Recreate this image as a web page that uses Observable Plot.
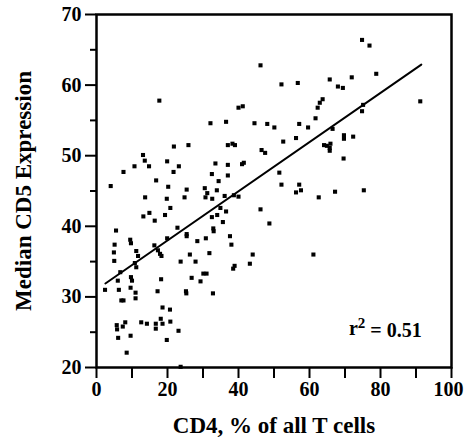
<!DOCTYPE html>
<html><head><meta charset="utf-8">
<script src="https://cdn.jsdelivr.net/npm/d3@7"></script>
<script src="https://cdn.jsdelivr.net/npm/@observablehq/plot@0.6"></script>
<style>body{margin:0;background:#fff} svg{display:block}</style>
</head><body><div id="chart"></div>
<script>
// CD4 (% of all T cells) for each sample
const cd4 = [74.8,76.9,46.2,78.8,71.9,65.7,68.0,69.4,52.1,56.7,91.2,17.7,63.7,62.9,62.3,40.0,41.2,75.1,74.8,61.7,
32.1,36.5,44.5,48.1,50.1,57.1,59.6,66.5,56.2,52.6,69.7,69.7,72.3,64.1,64.9,65.9,65.7,65.7,25.9,21.8,
37.0,38.3,39.0,46.5,47.5,13.1,13.6,14.8,10.7,19.9,23.2,21.7,7.6,33.5,37.0,41.0,41.5,32.5,37.0,51.5,
69.6,4.0,16.8,20.2,25.4,30.5,31.2,33.9,34.4,36.1,38.7,40.0,52.1,57.1,56.2,57.6,67.2,75.3,62.6,13.7,
19.8,24.8,30.7,32.6,46.2,20.8,14.9,13.2,16.4,19.3,32.5,34.0,34.9,36.5,35.6,48.7,22.8,32.9,33.0,5.5,
25.4,25.4,37.6,19.9,30.8,9.5,9.7,5.1,16.3,38.0,17.3,11.2,4.9,17.9,18.3,11.7,31.8,26.3,44.0,61.1,
5.0,23.7,27.9,43.2,10.8,11.2,38.9,38.5,28.4,6.7,30.1,31.0,26.8,29.3,18.2,9.7,10.0,6.0,9.6,6.3,
2.4,17.2,25.2,25.3,32.8,11.0,11.0,7.0,7.6,18.6,20.7,18.1,18.6,20.8,12.6,14.2,16.7,16.7,8.1,7.4,
5.7,5.8,6.1,9.6,23.1,19.8,8.5,23.7];
// Median CD5 expression for each sample
const cd5 = [66.4,65.6,62.8,61.6,61.1,60.8,59.8,59.6,60.1,60.3,57.7,57.8,58.0,57.5,56.8,56.8,57.0,57.2,56.3,55.3,
54.6,54.8,54.6,54.5,54.0,54.5,54.0,53.8,52.5,52.0,52.9,52.4,52.7,51.5,51.4,51.7,51.1,50.7,51.5,51.3,
51.5,51.7,51.5,50.8,50.4,50.1,49.3,48.5,48.5,49.2,48.5,47.7,47.7,48.9,48.7,48.8,49.0,47.4,47.2,47.6,
49.6,45.7,46.5,45.6,45.2,45.4,44.7,45.1,46.4,44.3,44.4,44.2,45.9,45.9,44.8,45.1,44.9,45.1,44.1,44.1,
43.9,44.1,44.1,43.9,42.4,42.6,41.9,41.4,40.8,41.6,41.3,41.6,42.6,42.1,40.6,40.4,39.8,39.7,39.3,39.4,
38.9,38.6,38.6,38.3,38.3,38.1,37.6,37.4,37.3,37.4,36.6,36.5,36.3,36.1,35.8,35.8,36.2,36.0,36.0,36.0,
35.1,35.0,35.0,34.7,34.8,34.2,34.4,34.0,37.9,33.5,33.3,33.3,32.7,32.2,32.5,32.8,32.3,32.3,31.3,31.0,
31.0,30.8,30.8,30.5,30.5,30.6,29.8,29.5,29.5,28.5,28.2,26.9,26.2,26.5,26.4,26.2,26.2,25.5,26.4,25.8,
26.0,25.4,24.2,24.5,25.2,23.9,22.1,20.1];
// Regression line end points
const fitX = [2.5, 91.5];
const fitY = [31.9, 62.9];
// Ticks
const xTicks = [0,10,20,30,40,50,60,70,80,90,100];
const yMajor = [20,30,40,50,60,70];
const yMinor = [25,35,45,55,65];
// Annotation
const r2Text = ["r2 = 0.51"];
const r2X = [91.6];
const r2Y = [25.5];

const points = cd4.map((x, i) => ({x, y: cd5[i]}));
const fit = fitX.map((x, i) => ({x, y: fitY[i]}));
const notes = r2Text.map((t, i) => ({t, x: r2X[i], y: r2Y[i]}));

const chart = Plot.plot({
  width: 464, height: 440,
  marginLeft: 96, marginRight: 13, marginTop: 14, marginBottom: 73,
  style: {fontFamily: "'Liberation Serif', serif", fontWeight: "bold", fontSize: "20px", color: "#000", background: "#fff"},
  x: {domain: [0, 100]},
  y: {domain: [20, 70]},
  marks: [
    Plot.axisX({ticks: xTicks, tickSize: 11, tickPadding: 3, strokeWidth: 2,
      tickFormat: d => d % 20 === 0 ? String(d) : "",
      label: "CD4, % of all T cells", labelAnchor: "center", labelArrow: "none", labelOffset: 65}),
    Plot.axisY({ticks: yMajor, tickSize: 11, tickPadding: 4, strokeWidth: 2,
      label: "Median CD5 Expression", labelAnchor: "center", labelArrow: "none", labelOffset: 82}),
    Plot.axisY({ticks: yMinor, tickSize: 6, strokeWidth: 2, tickFormat: () => "", label: null}),
    Plot.frame({strokeWidth: 2.5}),
    Plot.line(fit, {x: "x", y: "y", strokeWidth: 2}),
    Plot.dot(points, {x: "x", y: "y", symbol: "square", r: 2.3, fill: "black", stroke: "none"}),
    Plot.text(notes, {x: "x", y: "y", text: "t", textAnchor: "end", fontSize: 20, className: "r2note"})
  ]
});
document.getElementById("chart").append(chart);

// axis title sizes
d3.select(chart).selectAll('[aria-label="x-axis label"] text, [aria-label="y-axis label"] text')
  .style("font-size", "23px");
// keep the last x tick label inside the window
d3.select(chart).selectAll('[aria-label="x-axis tick label"] text')
  .filter(function() { return this.textContent === "100"; })
  .attr("dx", "-3");
// superscript 2 in r² annotation
d3.select(chart).selectAll('.r2note text').each(function() {
  const t = d3.select(this);
  t.text("");
  t.append("tspan").text("r");
  t.append("tspan").attr("dy", "-0.45em").style("font-size", "15px").text("2");
  t.append("tspan").attr("dy", "0.45em").text(" = 0.51");
});
</script>
</body></html>
